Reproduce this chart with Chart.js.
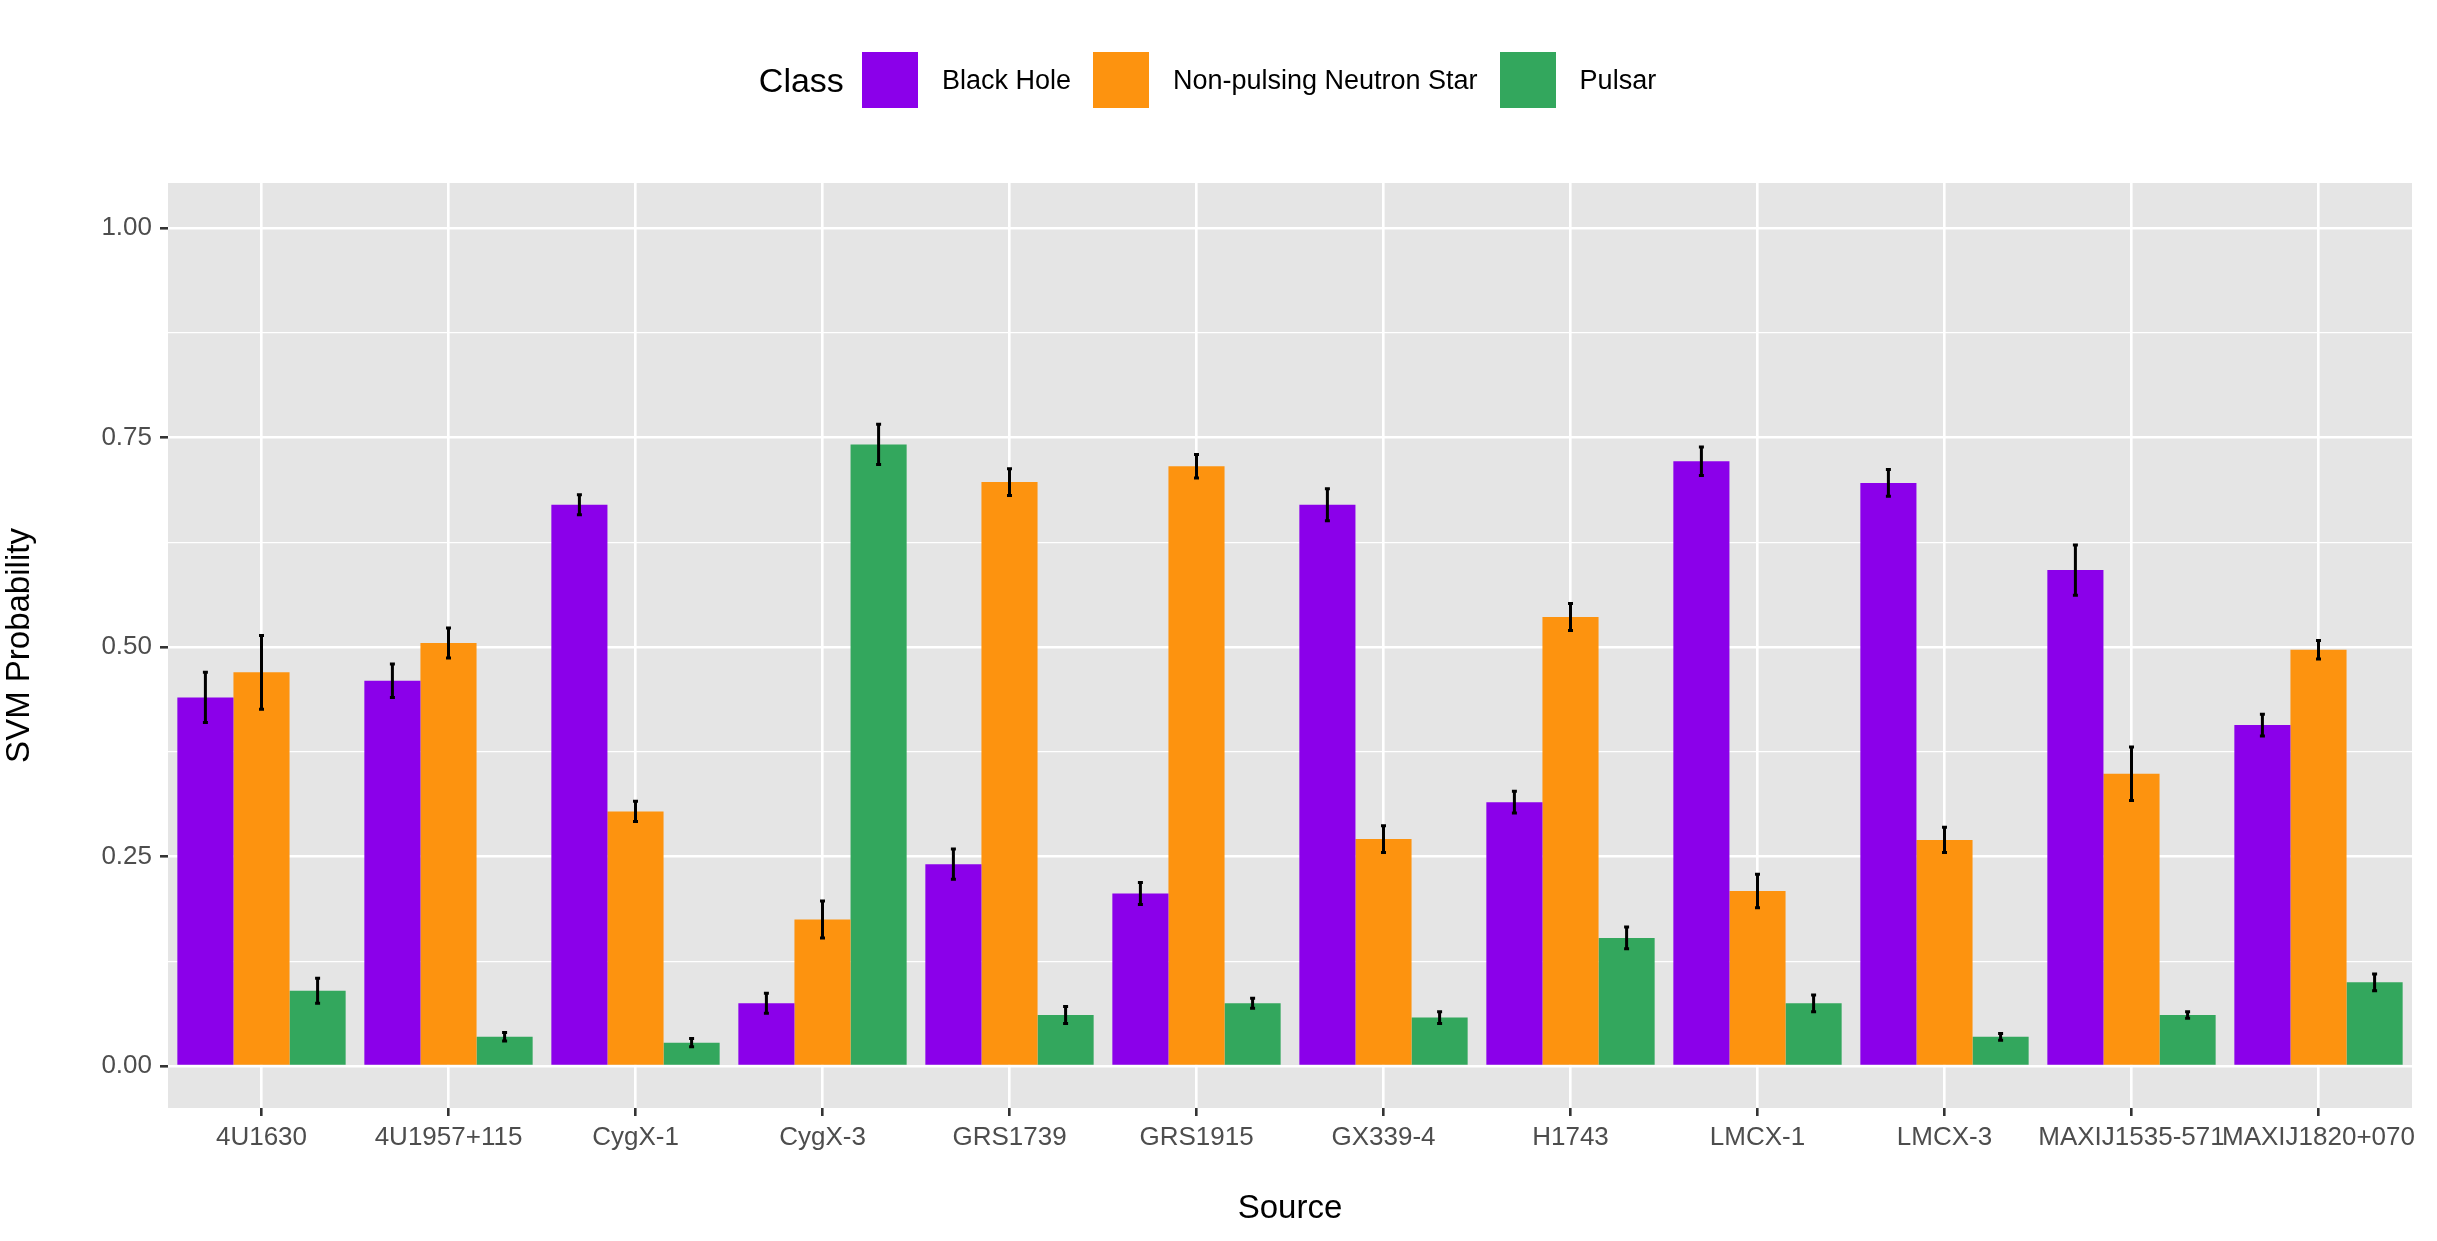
<!DOCTYPE html>
<html>
<head>
<meta charset="utf-8">
<script src="https://cdn.jsdelivr.net/npm/chart.js@4"></script>
<style>
  body { margin: 0; background: #fff; font-family: "Liberation Sans", Arial, sans-serif; }
  #wrap { position: relative; width: 2437px; height: 1241px; }
  #legend { position: absolute; top: 52px; left: 0; width: 2437px; display: flex; justify-content: center; align-items: center; }
  #legend .title { font-size: 34px; margin-right: 18px; }
  #legend .key { width: 56px; height: 56px; margin-right: 24px; }
  #legend .lab { font-size: 27px; margin-right: 22px; }
</style>
</head>
<body>
<div id="wrap">
  <canvas id="myChart" width="2437" height="1241"></canvas>
  <div id="legend">
    <span class="title">Class</span>
    <span class="key" style="background:#8b00ea"></span><span class="lab">Black Hole</span>
    <span class="key" style="background:#fd930f"></span><span class="lab">Non-pulsing Neutron Star</span>
    <span class="key" style="background:#33a75d"></span><span class="lab">Pulsar</span>
  </div>
</div>
<script>
const sources = ['4U1630', '4U1957+115', 'CygX-1', 'CygX-3', 'GRS1739', 'GRS1915', 'GX339-4', 'H1743', 'LMCX-1', 'LMCX-3', 'MAXIJ1535-571', 'MAXIJ1820+070'];

const blackHole = [0.44, 0.46, 0.67, 0.075, 0.241, 0.206, 0.67, 0.315, 0.722, 0.696, 0.592, 0.407];
const blackHoleErr = [0.030, 0.020, 0.012, 0.012, 0.018, 0.013, 0.019, 0.013, 0.017, 0.016, 0.030, 0.013];
const neutronStar = [0.47, 0.505, 0.304, 0.175, 0.697, 0.716, 0.271, 0.536, 0.209, 0.27, 0.349, 0.497];
const neutronStarErr = [0.044, 0.018, 0.012, 0.022, 0.016, 0.014, 0.016, 0.016, 0.020, 0.015, 0.032, 0.011];
const pulsar = [0.09, 0.035, 0.028, 0.742, 0.061, 0.075, 0.058, 0.153, 0.075, 0.035, 0.061, 0.1];
const pulsarErr = [0.015, 0.005, 0.005, 0.024, 0.010, 0.006, 0.007, 0.013, 0.010, 0.004, 0.004, 0.010];

const yTicks = [0, 0.125, 0.25, 0.375, 0.5, 0.625, 0.75, 0.875, 1];

const errorBars = {
  id: 'errorBars',
  afterDatasetsDraw(chart) {
    const c = chart.ctx;
    const y = chart.scales.y;
    c.save();
    c.strokeStyle = '#000';
    c.lineWidth = 3;
    chart.data.datasets.forEach((ds, i) => {
      chart.getDatasetMeta(i).data.forEach((bar, j) => {
        const top = y.getPixelForValue(ds.data[j] + ds.err[j]);
        const bot = y.getPixelForValue(ds.data[j] - ds.err[j]);
        c.beginPath();
        c.moveTo(bar.x, top); c.lineTo(bar.x, bot);
        c.moveTo(bar.x - 2.5, top); c.lineTo(bar.x + 2.5, top);
        c.moveTo(bar.x - 2.5, bot); c.lineTo(bar.x + 2.5, bot);
        c.stroke();
      });
    });
    c.restore();
  }
};

const panelBg = {
  id: 'panelBg',
  beforeDraw(chart) {
    const a = chart.chartArea;
    chart.ctx.fillStyle = '#e5e5e5';
    chart.ctx.fillRect(a.left, a.top, a.right - a.left, a.bottom - a.top);
  }
};

const ctx = document.getElementById('myChart');

let myChart = new Chart(ctx, {
  type: 'bar',
  data: {
    labels: sources,
    datasets: [
      { label: 'Black Hole', data: blackHole, err: blackHoleErr, backgroundColor: '#8b00ea' },
      { label: 'Non-pulsing Neutron Star', data: neutronStar, err: neutronStarErr, backgroundColor: '#fd930f' },
      { label: 'Pulsar', data: pulsar, err: pulsarErr, backgroundColor: '#33a75d' }
    ]
  },
  plugins: [panelBg, errorBars],
  options: {
    responsive: false,
    animation: false,
    devicePixelRatio: 1,
    datasets: { bar: { categoryPercentage: 0.9, barPercentage: 1 } },
    layout: { padding: { top: 183, right: 25, bottom: 8, left: 0 } },
    plugins: { legend: { display: false }, tooltip: { enabled: false } },
    scales: {
      y: {
        min: -0.05,
        max: 1.054,
        afterBuildTicks: (s) => { s.ticks = yTicks.map(v => ({ value: v })); },
        afterFit: (s) => { s.width = 168; },
        ticks: {
          color: '#4d4d4d',
          font: { family: 'Liberation Sans', size: 26 },
          padding: 8,
          callback: (v) => (v * 4) % 1 === 0 ? v.toFixed(2) : ''
        },
        grid: {
          color: '#ffffff',
          lineWidth: (c) => (c.tick && (c.tick.value * 4) % 1 === 0) ? 2.6 : 1.2,
          tickColor: (c) => (c.tick && (c.tick.value * 4) % 1 === 0) ? '#333' : 'rgba(0,0,0,0)',
          tickLength: 8,
          drawTicks: true
        },
        border: { display: false },
        title: { display: true, text: 'SVM Probability', color: '#000', font: { family: 'Liberation Sans', size: 33 }, padding: { top: 0, bottom: 4 } }
      },
      x: {
        afterFit: (s) => { s.height = 125; },
        ticks: {
          color: '#4d4d4d',
          font: { family: 'Liberation Sans', size: 26 },
          autoSkip: false,
          maxRotation: 0,
          padding: 6
        },
        grid: { offset: false, color: '#ffffff', lineWidth: 2.6, tickColor: '#333', tickLength: 8 },
        border: { display: false },
        title: { display: true, text: 'Source', color: '#000', font: { family: 'Liberation Sans', size: 33 }, padding: { top: 4 } }
      }
    }
  }
});
</script>
</body>
</html>
